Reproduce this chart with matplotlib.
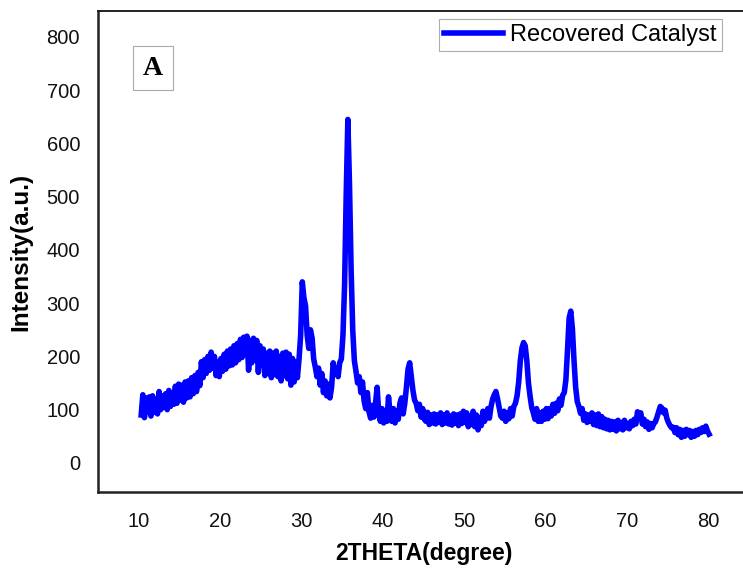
import numpy as np
import matplotlib.pyplot as plt

# 2theta sampled every 0.2 degree from 10.3 to 80.1
two_theta = np.round(np.arange(10.3, 80.11, 0.2), 1)

# intensity, one row per degree (5 points each)
intensity = [
    90, 128, 85, 122, 95,       # 10.3
    124, 88, 126, 95, 120,      # 11.3
    92, 134, 100, 126, 104,     # 12.3
    130, 100, 136, 106, 132,    # 13.3
    110, 144, 112, 148, 118,    # 14.3
    146, 114, 152, 122, 154,    # 15.3
    124, 160, 130, 164, 134,    # 16.3
    170, 145, 190, 160, 194,    # 17.3
    168, 200, 174, 208, 178,    # 18.3
    200, 164, 190, 162, 196,    # 19.3
    172, 204, 176, 210, 182,    # 20.3
    214, 184, 220, 188, 224,    # 21.3
    194, 232, 198, 236, 204,    # 22.3
    238, 174, 230, 188, 234,    # 23.3
    194, 230, 170, 220, 184,    # 24.3
    214, 164, 206, 168, 210,    # 25.3
    160, 206, 166, 210, 162,    # 26.3
    200, 154, 206, 164, 208,    # 27.3
    158, 204, 146, 196, 152,    # 28.3
    190, 160, 195, 240, 340,    # 29.3
    310, 295, 240, 215, 250,    # 30.3
    235, 195, 180, 162, 178,    # 31.3
    146, 168, 132, 154, 126,    # 32.3
    148, 122, 142, 188, 168,    # 33.3
    178, 162, 188, 195, 240,    # 34.3
    335, 505, 645, 525, 365,    # 35.3
    250, 192, 172, 150, 162,    # 36.3
    132, 152, 116, 102, 132,    # 37.3
    96, 84, 108, 86, 112,       # 38.3
    142, 92, 78, 102, 75,       # 39.3
    98, 78, 124, 92, 78,        # 40.3
    102, 75, 98, 82, 112,       # 41.3
    122, 92, 112, 142, 176,     # 42.3
    188, 162, 136, 118, 112,    # 43.3
    98, 110, 86, 102, 82,       # 44.3
    78, 95, 72, 90, 75,         # 45.3
    92, 73, 90, 76, 94,         # 46.3
    72, 90, 75, 94, 73,         # 47.3
    88, 71, 92, 75, 90,         # 48.3
    70, 92, 74, 97, 76,         # 49.3
    94, 68, 88, 72, 97,         # 50.3
    68, 90, 62, 84, 70,         # 51.3
    97, 78, 90, 102, 84,        # 52.3
    106, 120, 128, 134, 120,    # 53.3
    104, 88, 84, 97, 78,        # 54.3
    94, 83, 102, 88, 106,       # 55.3
    112, 126, 152, 192, 216,    # 56.3
    226, 220, 192, 150, 125,    # 57.3
    104, 94, 82, 102, 78,       # 58.3
    94, 78, 97, 82, 102,        # 59.3
    83, 102, 88, 110, 93,       # 60.3
    112, 98, 120, 108, 127,     # 61.3
    132, 156, 212, 272, 285,    # 62.3
    252, 192, 142, 115, 106,    # 63.3
    93, 102, 80, 92, 76,        # 64.3
    90, 78, 94, 72, 90,         # 65.3
    70, 92, 68, 87, 66,         # 66.3
    82, 64, 80, 62, 78,         # 67.3
    63, 77, 60, 80, 64,         # 68.3
    76, 62, 80, 66, 74,         # 69.3
    64, 78, 70, 82, 73,         # 70.3
    96, 86, 94, 73, 82,         # 71.3
    68, 77, 63, 74, 66,         # 72.3
    74, 77, 86, 96, 106,        # 73.3
    103, 94, 99, 84, 76,        # 74.3
    70, 66, 67, 57, 66,         # 75.3
    53, 63, 48, 61, 50,         # 76.3
    63, 53, 61, 48, 59,         # 77.3
    50, 61, 53, 63, 57,         # 78.3
    66, 59, 69, 60, 54,         # 79.3
]

x_ticks = [10, 20, 30, 40, 50, 60, 70, 80]
y_ticks = [0, 100, 200, 300, 400, 500, 600, 700, 800]

plt.rcParams['font.family'] = ['Liberation Sans', 'DejaVu Sans']

fig = plt.figure(figsize=(7.43, 5.69), dpi=100)
fig.patch.set_facecolor('white')
ax = fig.add_axes([0.132, 0.135, 0.876, 0.846])

ax.plot(two_theta, intensity, color='#0000ff', lw=4, solid_joinstyle='round',
        label='Recovered Catalyst')

ax.set_xlim(5, 85)
ax.set_ylim(-55, 849)
ax.set_xticks(x_ticks)
ax.set_yticks(y_ticks)
ax.tick_params(length=0, labelsize=14.5, colors='#111111')
ax.tick_params(axis='x', pad=14)
ax.tick_params(axis='y', pad=13)

for side in ['left', 'bottom']:
    ax.spines[side].set_linewidth(1.8)
    ax.spines[side].set_color('#222222')
ax.spines['top'].set_linewidth(1.4)
ax.spines['top'].set_color('#222222')

ax.set_xlabel('2THETA(degree)', fontsize=16.5, fontweight='bold', labelpad=8)
ax.set_ylabel('Intensity(a.u.)', fontsize=17.5, fontweight='bold', labelpad=10)

leg = ax.legend(loc='upper right', bbox_to_anchor=(0.958, 0.983), fontsize=17,
                frameon=True, fancybox=False, handlelength=2.5, handletextpad=0.3,
                borderpad=0.22, borderaxespad=0)
leg.get_frame().set_edgecolor('#999999')
leg.get_frame().set_linewidth(0.8)

ax.text(0.0845, 0.881, 'A', transform=ax.transAxes, fontsize=20, fontweight='bold',
        family='Liberation Serif', ha='center', va='center',
        bbox=dict(boxstyle='square,pad=0.35', fc='white', ec='#aaaaaa', lw=0.8))

plt.savefig('out.png', dpi=100, facecolor='white')
plt.close()
